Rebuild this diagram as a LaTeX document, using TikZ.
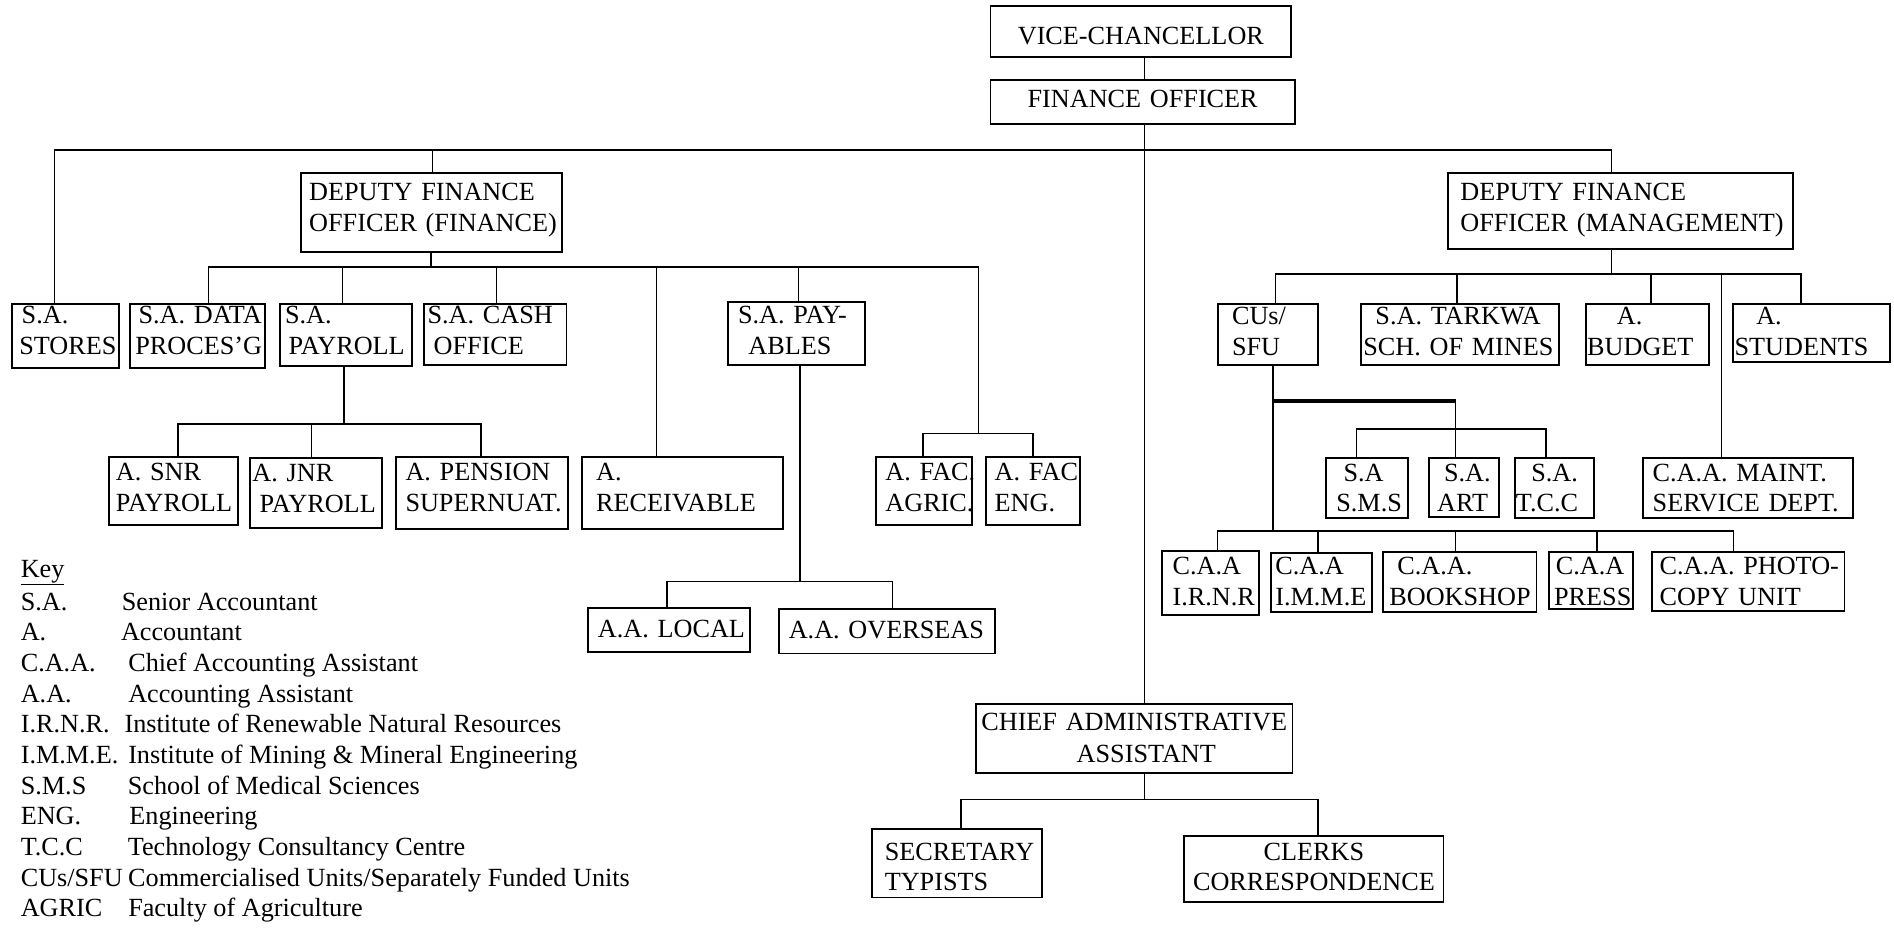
\documentclass[tikz,border=0pt]{standalone}
\usepackage{fontspec}
\setmainfont{Liberation Serif}
\newcommand{\orgfont}{\fontsize{21.7pt}{25.5pt}\selectfont\frenchspacing}
% one unbreakable line of box text
\newcommand{\rowtext}[1]{\mbox{#1}}
\tikzset{
  org/.style={draw, line width=1.6pt, inner ysep=0pt, outer sep=0pt,
    anchor=north west, align=left, font=\orgfont},
  % width, height, side padding, first-baseline offset
  dims/.code n args={4}{%
    \pgfmathsetmacro\dimsTW{#1-2*#3}%
    \pgfmathsetmacro\dimsTD{#2-#4}%
    \edef\dimsSet{\noexpand\pgfkeysalso{minimum width=#1pt, minimum height=#2pt,
      inner xsep=#3pt, text width=\dimsTW pt, text height=#4pt, text depth=\dimsTD pt}}%
    \dimsSet},
  wire/.style={line width=1.3pt},
  heavywire/.style={line width=2.6pt},
  keyrow/.style={anchor=base west, inner sep=0pt, font=\orgfont},
}
\begin{document}
\begin{tikzpicture}[x=1pt,y=-1pt]
\useasboundingbox (0,0) rectangle (1568,768);

% ---- top of the hierarchy
\node[org, dims={249}{42}{0}{32}, align=center] (vc) at (820,5) {\rowtext{VICE-CHANCELLOR}};
\node[org, dims={252}{37}{0}{23}, align=center] (fo) at (820,66) {\rowtext{FINANCE OFFICER}};
\node[org, dims={216}{66}{7}{23}] (dff) at (249,143) {\rowtext{DEPUTY FINANCE}\\\rowtext{OFFICER (FINANCE)}};
\node[org, dims={285}{63}{10}{23}] (dfm) at (1199,143) {\rowtext{DEPUTY FINANCE}\\\rowtext{OFFICER (MANAGEMENT)}};

% ---- finance branch
\node[org, dims={88.5}{53}{6}{16}] (stores) at (10,252) {\rowtext{\hspace*{2pt}S.A.}\\\rowtext{STORES}};
\node[org, dims={111.5}{53}{4}{16}] (data) at (108,252) {\rowtext{\hspace*{2.7pt}S.A. DATA}\\\rowtext{PROCES’G}};
\node[org, dims={109}{51}{4}{16}] (payroll) at (232,252) {\rowtext{S.A.}\\\rowtext{\hspace*{3pt}PAYROLL}};
\node[org, dims={118}{50}{3}{16}] (cash) at (351,252) {\rowtext{S.A. CASH}\\\rowtext{\hspace*{5pt}OFFICE}};
\node[org, dims={113}{52}{8}{18}] (payables) at (603,250) {\rowtext{S.A. PAY-}\\\rowtext{\hspace*{8.6pt}ABLES}};

\node[org, dims={107}{57}{6}{20}] (snr) at (90,378) {\rowtext{A. SNR}\\\rowtext{PAYROLL}};
\node[org, dims={109}{58}{2}{20}] (jnr) at (207,379) {\rowtext{A. JNR}\\\rowtext{\hspace*{6pt}PAYROLL}};
\node[org, dims={142}{60}{7.7}{20}] (pension) at (328,378) {\rowtext{A. PENSION}\\\rowtext{SUPERNUAT.}};
\node[org, dims={166}{60}{11.5}{20}] (receivable) at (482,378) {\rowtext{A.}\\\rowtext{RECEIVABLE}};
\node[org, dims={80}{57}{8}{20}] (agric) at (725,378) {\rowtext{A. FAC.}\\\rowtext{AGRIC.}};
\node[org, dims={78}{57}{7.5}{20}] (eng) at (816,378) {\rowtext{A. FAC}\\\rowtext{ENG.}};

\node[org, dims={134}{37}{8}{25}] (local) at (487,503) {\rowtext{A.A. LOCAL}};
\node[org, dims={179}{37}{8}{25}] (overseas) at (645,504) {\rowtext{A.A. OVERSEAS}};

% ---- administrative branch
\node[org, dims={262}{57}{2}{21.6}, align=center] (caa) at (808,583)
  {\rowtext{CHIEF ADMINISTRATIVE}\\[1.5pt]\rowtext{\hspace*{20pt}ASSISTANT}};
\node[org, dims={141}{57}{10.5}{26}] (sec) at (722,686) {\rowtext{SECRETARY}\\\rowtext{TYPISTS}};
\node[org, dims={214.5}{55}{2}{20}, align=center] (clerks) at (980.5,692) {\rowtext{CLERKS}\\\rowtext{CORRESPONDENCE}};

% ---- management branch
\node[org, dims={83}{50}{12}{17}] (cus) at (1008,252) {\rowtext{CUs/}\\\rowtext{SFU}};
\node[org, dims={164}{50}{1.7}{17}] (tarkwa) at (1127,252) {\rowtext{\hspace*{10pt}S.A. TARKWA}\\\rowtext{SCH. OF MINES}};
\node[org, dims={102}{50}{1}{17}] (budget) at (1313,252) {\rowtext{\hspace*{24.6pt}A.}\\\rowtext{BUDGET}};
\node[org, dims={130}{48}{1}{17}] (students) at (1435,252) {\rowtext{\hspace*{18pt}A.}\\\rowtext{STUDENTS}};

\node[org, dims={68}{50}{8.3}{19.3}] (sms) at (1098,379) {\rowtext{\hspace*{6pt}S.A}\\\rowtext{S.M.S}};
\node[org, dims={58}{49}{6.8}{19.3}] (art) at (1183,379) {\rowtext{\hspace*{5.7pt}S.A.}\\\rowtext{ART}};
\node[org, dims={66}{50}{1}{19.3}] (tcc) at (1254,379) {\rowtext{\hspace*{12.7pt}S.A.}\\\rowtext{T.C.C}};
\node[org, dims={174}{50}{8.2}{19.3}] (maint) at (1360,379) {\rowtext{C.A.A. MAINT.}\\\rowtext{SERVICE DEPT.}};

\node[org, dims={80}{53}{8.8}{20}] (irnr) at (962,456) {\rowtext{C.A.A}\\\rowtext{I.R.N.R}};
\node[org, dims={84}{49}{3.8}{18}] (imme) at (1052,458) {\rowtext{C.A.A}\\\rowtext{I.M.M.E}};
\node[org, dims={127}{50}{5.2}{19}] (bookshop) at (1145,457) {\rowtext{\hspace*{6.6pt}C.A.A.}\\\rowtext{BOOKSHOP}};
\node[org, dims={70}{47}{4.6}{19}] (press) at (1282,457) {\rowtext{\hspace*{1.4pt}C.A.A}\\\rowtext{PRESS}};
\node[org, dims={159}{49}{5.9}{19}] (photo) at (1368,457) {\rowtext{C.A.A. PHOTO-}\\\rowtext{COPY UNIT}};

% ---- junction points on the connecting buses
\coordinate (spine) at (947.5,124);
\coordinate (t0a) at (45,124);   \coordinate (t0b) at (358,124);  \coordinate (t0c) at (1334,124);
\coordinate (t1a) at (172.5,221); \coordinate (t1b) at (283.5,221); \coordinate (t1c) at (357,221);
\coordinate (t1d) at (411,221);  \coordinate (t1e) at (543.5,221); \coordinate (t1f) at (661,221);
\coordinate (t1g) at (810,221);
\coordinate (tfa) at (764,359);  \coordinate (tfm) at (810,359);  \coordinate (tfb) at (855,359);
\coordinate (tpa) at (147.5,351); \coordinate (tpb) at (258,351); \coordinate (tpm) at (285,351);
\coordinate (tpc) at (398,351);
\coordinate (tla) at (552,481.5); \coordinate (tlm) at (662.5,481.5); \coordinate (tlb) at (739,481.5);
\coordinate (tca) at (795.5,662); \coordinate (tcm) at (947.5,662); \coordinate (tcb) at (1091,662);
\coordinate (tma) at (1056,227); \coordinate (tmb) at (1206,227); \coordinate (tmm) at (1334,227);
\coordinate (tmc) at (1367,227); \coordinate (tmd) at (1425,227); \coordinate (tme) at (1491,227);
\coordinate (tua) at (1054,332); \coordinate (tub) at (1205,332);
\coordinate (tsa) at (1123,355); \coordinate (tsc) at (1280,355);
\coordinate (tqa) at (1008,439.5); \coordinate (tqb) at (1054,439.5); \coordinate (tqc) at (1091,439.5);
\coordinate (tqd) at (1205,439.5); \coordinate (tqe) at (1322,439.5); \coordinate (tqf) at (1435,439.5);

% ---- connectors
\draw[wire] (spine |- vc.south) -- (spine |- fo.north);
\draw[wire] (spine |- fo.south) -- (spine |- caa.north);
\draw[wire] (t0a |- stores.north) -- (t0a) -- (t0c) -- (t0c |- dfm.north);
\draw[wire] (t0b) -- (t0b |- dff.north);

\draw[wire] (t1c |- dff.south) -- (t1c);
\draw[wire] (t1a |- data.north) -- (t1a) -- (t1g) -- (tfm);
\draw[wire] (t1b) -- (t1b |- payroll.north);
\draw[wire] (t1d) -- (t1d |- cash.north);
\draw[wire] (t1e) -- (t1e |- receivable.north);
\draw[wire] (t1f) -- (t1f |- payables.north);
\draw[wire] (tfa |- agric.north) -- (tfa) -- (tfb) -- (tfb |- eng.north);

\draw[wire] (tpm |- payroll.south) -- (tpm);
\draw[wire] (tpa |- snr.north) -- (tpa) -- (tpc) -- (tpc |- pension.north);
\draw[wire] (tpb) -- (tpb |- jnr.north);

\draw[wire] (tlm |- payables.south) -- (tlm);
\draw[wire] (tla |- local.north) -- (tla) -- (tlb) -- (tlb |- overseas.north);

\draw[wire] (tcm |- caa.south) -- (tcm);
\draw[wire] (tca |- sec.north) -- (tca) -- (tcb) -- (tcb |- clerks.north);

\draw[wire] (tmm |- dfm.south) -- (tmm);
\draw[wire] (tma |- cus.north) -- (tma) -- (tme) -- (tme |- students.north);
\draw[wire] (tmb) -- (tmb |- tarkwa.north);
\draw[wire] (tmc) -- (tmc |- budget.north);
\draw[wire] (tmd) -- (tmd |- maint.north);

\draw[wire] (tqb |- cus.south) -- (tqb);
\draw[heavywire] (tua) -- (tub);
\draw[wire] (tub) -- (tub |- art.north);
\draw[wire] (tsa |- sms.north) -- (tsa) -- (tsc) -- (tsc |- tcc.north);
\draw[wire] (tqa |- irnr.north) -- (tqa) -- (tqf) -- (tqf |- photo.north);
\draw[wire] (tqc) -- (tqc |- imme.north);
\draw[wire] (tqd) -- (tqd |- bookshop.north);
\draw[wire] (tqe) -- (tqe |- press.north);

% ---- key of abbreviations
\node[keyrow] (key) at (17,478) {\underline{Key}};
\node[keyrow] (k1) at (17,505) {\makebox[83.7pt][l]{S.A.}Senior Accountant};
\node[keyrow] (k2) at (17,530.4) {\makebox[83pt][l]{A.}Accountant};
\node[keyrow] (k3) at (17,555.8) {\makebox[89pt][l]{C.A.A.}Chief Accounting Assistant};
\node[keyrow] (k4) at (17,581.2) {\makebox[89pt][l]{A.A.}Accounting Assistant};
\node[keyrow] (k5) at (17,606.6) {\makebox[86pt][l]{I.R.N.R.}Institute of Renewable Natural Resources};
\node[keyrow] (k6) at (17,632) {\makebox[89pt][l]{I.M.M.E.}Institute of Mining \& Mineral Engineering};
\node[keyrow] (k7) at (17,657.4) {\makebox[88.7pt][l]{S.M.S}School of Medical Sciences};
\node[keyrow] (k8) at (17,682.8) {\makebox[90pt][l]{ENG.}Engineering};
\node[keyrow] (k9) at (17,708.2) {\makebox[88.7pt][l]{T.C.C}Technology Consultancy Centre};
\node[keyrow] (k10) at (17,733.6) {\makebox[89pt][l]{CUs/SFU}Commercialised Units/Separately Funded Units};
\node[keyrow] (k11) at (17,759) {\makebox[89pt][l]{AGRIC}Faculty of Agriculture};
\end{tikzpicture}
\end{document}
